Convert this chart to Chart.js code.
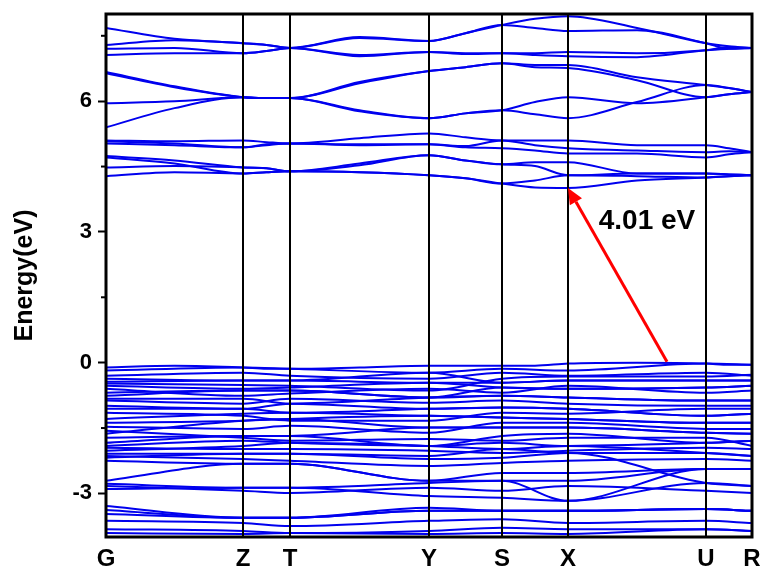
<!DOCTYPE html>
<html>
<head>
<meta charset="utf-8">
<script src="https://cdn.jsdelivr.net/npm/chart.js@4/dist/chart.umd.min.js"></script>
<style>
  html, body { margin: 0; padding: 0; background: #fff; }
  #wrap { width: 766px; height: 571px; }
</style>
</head>
<body>
<div id="wrap"><canvas id="bandChart" width="766" height="571"></canvas></div>
<script>
// High-symmetry points along the k-path
const kLabels = ['G', 'Z', 'T', 'Y', 'S', 'X', 'U', 'R'];
const kSym = [0, 1.37, 1.84, 3.23, 3.96, 4.62, 6.00, 6.46];
// symmetry points plus the halfway points between them
const kFine = [0, 0.685, 1.37, 1.605, 1.84, 2.535, 3.23, 3.595, 3.96, 4.29, 4.62, 5.31, 6.00, 6.23, 6.46];

const yTicks = [-3, 0, 3, 6];
const yMinor = [-1.5, 1.5, 4.5, 7.5];

// Conduction bands (eV), read on kFine
const conductionBands = [
    [7.68, 7.43, 7.33, 7.29, 7.22, 7.47, 7.38, 7.56, 7.75, 7.89, 7.95, 7.68, 7.33, 7.26, 7.22],
    [7.29, 7.40, 7.33, 7.29, 7.22, 7.45, 7.38, 7.56, 7.75, 7.68, 7.61, 7.63, 7.33, 7.20, 7.22],
    [7.20, 7.22, 7.10, 7.15, 7.22, 7.06, 7.13, 7.10, 7.10, 7.10, 7.13, 7.10, 7.17, 7.24, 7.22],
    [7.06, 7.10, 7.10, 7.15, 7.22, 7.03, 7.13, 7.08, 7.10, 7.06, 7.03, 7.01, 7.17, 7.20, 7.22],
    [6.67, 6.34, 6.09, 6.07, 6.07, 6.44, 6.69, 6.78, 6.87, 6.83, 6.83, 6.55, 6.37, 6.30, 6.21],
    [6.64, 6.32, 6.09, 6.07, 6.07, 6.41, 6.69, 6.78, 6.87, 6.78, 6.76, 6.48, 6.09, 6.16, 6.21],
    [5.95, 6.00, 6.09, 6.07, 6.07, 5.79, 5.61, 5.72, 5.79, 5.98, 6.09, 5.95, 6.09, 6.16, 6.21],
    [5.40, 5.84, 6.09, 6.07, 6.07, 5.77, 5.61, 5.72, 5.79, 5.70, 5.61, 5.98, 6.37, 6.30, 6.21],
    [5.10, 5.08, 5.10, 5.06, 5.03, 5.15, 5.26, 5.17, 5.10, 5.10, 5.10, 4.99, 4.99, 4.92, 4.83],
    [5.03, 4.99, 4.94, 4.99, 5.03, 4.99, 5.01, 4.94, 4.92, 4.87, 4.80, 4.80, 4.71, 4.78, 4.83],
    [5.08, 5.03, 4.94, 5.01, 5.03, 5.01, 5.01, 4.97, 5.10, 4.99, 4.92, 4.87, 4.83, 4.85, 4.83],
    [4.74, 4.64, 4.48, 4.46, 4.39, 4.57, 4.76, 4.64, 4.55, 4.60, 4.60, 4.34, 4.34, 4.32, 4.30],
    [4.71, 4.57, 4.34, 4.37, 4.39, 4.37, 4.30, 4.23, 4.11, 4.02, 4.01, 4.18, 4.25, 4.28, 4.30],
    [4.48, 4.51, 4.48, 4.46, 4.39, 4.53, 4.76, 4.64, 4.55, 4.51, 4.30, 4.34, 4.34, 4.32, 4.30],
    [4.28, 4.37, 4.34, 4.37, 4.39, 4.37, 4.30, 4.23, 4.11, 4.18, 4.30, 4.28, 4.25, 4.28, 4.30]
];

// Top valence band (eV), read on kFine
const valenceTop = [-0.11, -0.07, -0.11, -0.14, -0.14, -0.11, -0.07, -0.07, -0.07, -0.07, -0.02, 0.00, -0.02, -0.05, -0.05];

// Remaining valence bands (eV), read on kSym
const valenceBands = [
    [-0.18, -0.11, -0.14, -0.23, -0.14, -0.18, -0.02, -0.05],
    [-0.30, -0.23, -0.30, -0.37, -0.23, -0.30, -0.23, -0.30],
    [-0.37, -0.41, -0.41, -0.23, -0.46, -0.41, -0.41, -0.41],
    [-0.44, -0.41, -0.41, -0.46, -0.46, -0.41, -0.41, -0.41],
    [-0.48, -0.51, -0.53, -0.64, -0.37, -0.32, -0.32, -0.28],
    [-0.53, -0.60, -0.57, -0.46, -0.57, -0.60, -0.57, -0.53],
    [-0.60, -0.76, -0.71, -0.60, -0.69, -0.53, -0.69, -0.64],
    [-0.69, -0.64, -0.64, -0.80, -0.57, -0.60, -0.57, -0.53],
    [-0.76, -0.64, -0.64, -0.80, -0.76, -0.80, -0.87, -0.87],
    [-0.83, -0.83, -0.94, -0.80, -0.76, -0.80, -0.87, -0.87],
    [-0.87, -0.94, -0.83, -0.92, -0.87, -0.94, -0.99, -0.99],
    [-0.99, -1.06, -0.94, -1.06, -1.03, -1.06, -1.22, -1.17],
    [-1.06, -1.06, -1.15, -1.06, -1.03, -1.06, -1.22, -1.17],
    [-1.15, -1.22, -1.33, -1.33, -1.15, -1.17, -1.06, -1.06],
    [-1.29, -1.17, -1.15, -1.22, -1.26, -1.29, -1.38, -1.38],
    [-1.38, -1.33, -1.29, -1.22, -1.26, -1.29, -1.38, -1.38],
    [-1.47, -1.52, -1.45, -1.61, -1.38, -1.38, -1.52, -1.52],
    [-1.56, -1.72, -1.79, -1.75, -1.79, -1.72, -1.72, -1.91],
    [-1.63, -1.33, -1.29, -1.49, -1.49, -1.49, -1.61, -1.63],
    [-1.72, -1.68, -1.68, -1.49, -1.49, -1.49, -1.61, -1.63],
    [-1.84, -1.68, -1.68, -1.91, -1.68, -1.63, -1.84, -1.79],
    [-1.91, -1.79, -1.84, -1.91, -1.84, -1.91, -1.84, -1.79],
    [-1.95, -1.98, -1.98, -2.02, -2.07, -2.02, -1.95, -1.98],
    [-2.02, -1.91, -1.84, -1.91, -1.98, -1.91, -2.07, -2.14],
    [-2.09, -2.09, -2.09, -2.14, -1.98, -2.07, -2.07, -2.14],
    [-2.14, -2.21, -2.25, -2.37, -2.30, -2.25, -2.21, -2.25],
    [-2.18, -2.09, -2.09, -2.21, -2.18, -2.07, -2.76, -2.83],
    [-2.25, -2.32, -2.32, -2.71, -2.53, -2.53, -2.44, -2.44],
    [-2.71, -2.32, -2.32, -2.71, -2.71, -2.71, -2.44, -2.44],
    [-2.78, -2.87, -2.87, -2.76, -2.71, -3.17, -2.44, -2.44],
    [-2.83, -2.94, -2.99, -2.87, -2.94, -2.83, -2.94, -2.99],
    [-2.90, -2.87, -2.87, -3.06, -3.10, -3.17, -2.76, -2.83],
    [-3.29, -3.56, -3.56, -3.33, -3.40, -3.40, -3.36, -3.40],
    [-3.38, -3.56, -3.56, -3.40, -3.40, -3.40, -3.36, -3.40],
    [-3.47, -3.56, -3.56, -3.40, -3.40, -3.40, -3.36, -3.40],
    [-3.63, -3.68, -3.75, -3.63, -3.59, -3.68, -3.63, -3.68],
    [-3.82, -3.86, -3.91, -3.86, -3.79, -3.82, -3.82, -3.86],
    [-3.91, -3.93, -3.91, -3.93, -3.91, -3.93, -3.82, -3.86]
];

// Band gap annotation: from VBM to CBM
const arrowFrom = [5.61, 0.02];
const arrowTo = [4.62, 4.01];
const gapText = '4.01 eV';
const gapTextPos = [5.41, 3.24];

const FONT = '"Liberation Sans", Arial, sans-serif';
const BAND_BLUE = '#0000ee';

function toPoints(values) {
    const ks = values.length === kFine.length ? kFine : kSym;
    return values.map((e, i) => ({ x: ks[i], y: e }));
}

const allBands = conductionBands.concat([valenceTop], valenceBands);
const datasets = allBands.map(b => ({
    data: toPoints(b),
    borderColor: BAND_BLUE,
    borderWidth: 2,
    pointRadius: 0,
    fill: false,
    cubicInterpolationMode: 'monotone'
}));

// frame, symmetry lines, minor ticks and the gap arrow
const decorations = {
    id: 'decorations',
    afterDatasetsDraw(chart) {
        const { ctx, chartArea: a, scales: { x, y } } = chart;
        ctx.save();
        // vertical lines at the symmetry points
        ctx.strokeStyle = '#000';
        ctx.lineWidth = 2;
        kSym.forEach(k => {
            const px = Math.round(x.getPixelForValue(k));
            ctx.beginPath();
            ctx.moveTo(px, a.top);
            ctx.lineTo(px, a.bottom);
            ctx.stroke();
        });
        // frame
        ctx.lineWidth = 3;
        ctx.strokeRect(a.left, a.top, a.right - a.left, a.bottom - a.top);
        // minor ticks
        ctx.lineWidth = 2;
        yMinor.forEach(v => {
            const py = y.getPixelForValue(v);
            ctx.beginPath();
            ctx.moveTo(a.left - 5, py);
            ctx.lineTo(a.left, py);
            ctx.stroke();
        });

        // arrow
        const x0 = x.getPixelForValue(arrowFrom[0]), y0 = y.getPixelForValue(arrowFrom[1]);
        const x1 = x.getPixelForValue(arrowTo[0]), y1 = y.getPixelForValue(arrowTo[1]);
        const ang = Math.atan2(y1 - y0, x1 - x0);
        const headLen = 16, headW = 7;
        const bx = x1 - headLen * Math.cos(ang), by = y1 - headLen * Math.sin(ang);
        ctx.strokeStyle = '#ff0000';
        ctx.fillStyle = '#ff0000';
        ctx.lineWidth = 3;
        ctx.beginPath();
        ctx.moveTo(x0, y0);
        ctx.lineTo(bx, by);
        ctx.stroke();
        ctx.beginPath();
        ctx.moveTo(x1, y1);
        ctx.lineTo(bx + headW * Math.sin(ang), by - headW * Math.cos(ang));
        ctx.lineTo(bx - headW * Math.sin(ang), by + headW * Math.cos(ang));
        ctx.closePath();
        ctx.fill();

        // gap label
        ctx.fillStyle = '#000';
        ctx.font = 'bold 28px ' + FONT;
        ctx.textAlign = 'center';
        ctx.textBaseline = 'middle';
        ctx.fillText(gapText, x.getPixelForValue(gapTextPos[0]), y.getPixelForValue(gapTextPos[1]));
        ctx.restore();
    }
};

new Chart(document.getElementById('bandChart').getContext('2d'), {
    type: 'line',
    data: { datasets: datasets },
    options: {
        responsive: false,
        animation: false,
        events: [],
        layout: { padding: { top: 14, right: 14, left: 0, bottom: 0 } },
        plugins: { legend: { display: false }, tooltip: { enabled: false } },
        scales: {
            x: {
                type: 'linear',
                min: 0,
                max: 6.46,
                afterBuildTicks: scale => { scale.ticks = kSym.map(v => ({ value: v })); },
                afterFit: scale => { scale.height = 34; scale.paddingLeft = 0; scale.paddingRight = 0; },
                grid: { display: false, drawTicks: false },
                border: { display: false },
                ticks: {
                    autoSkip: false,
                    maxRotation: 0,
                    padding: 8,
                    color: '#000',
                    font: { family: FONT, size: 24, weight: 'bold' },
                    callback: (v, i) => kLabels[i]
                }
            },
            y: {
                min: -4,
                max: 8,
                afterBuildTicks: scale => { scale.ticks = yTicks.map(v => ({ value: v })); },
                afterFit: scale => { scale.width = 106; scale.paddingTop = 0; scale.paddingBottom = 0; },
                grid: { drawOnChartArea: false, drawTicks: true, tickLength: 8, tickColor: '#000', tickWidth: 2 },
                border: { display: false },
                ticks: {
                    padding: 6,
                    color: '#000',
                    font: { family: FONT, size: 22, weight: 'bold' }
                },
                title: {
                    display: true,
                    text: 'Energy(eV)',
                    color: '#000',
                    padding: { top: 10, bottom: 4 },
                    font: { family: FONT, size: 25, weight: 'bold' }
                }
            }
        }
    },
    plugins: [decorations]
});
</script>
</body>
</html>
